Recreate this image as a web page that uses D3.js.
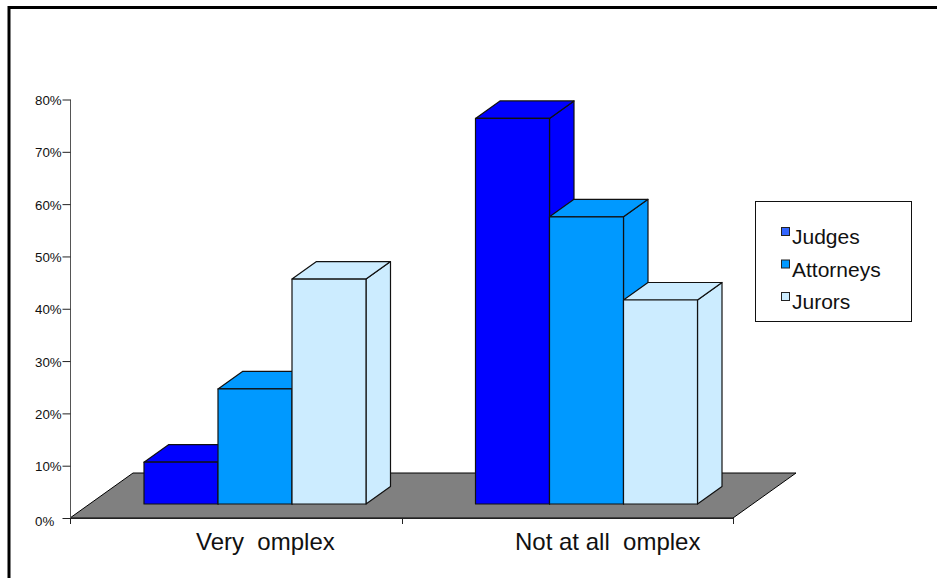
<!DOCTYPE html>
<html><head><meta charset="utf-8">
<script src="https://cdn.jsdelivr.net/npm/d3@7/dist/d3.min.js"></script>
<style>html,body{margin:0;padding:0;background:#fff}svg{display:block}text{font-family:"Liberation Sans",Arial,sans-serif;fill:#111}</style>
</head><body><svg id="c" width="937" height="578"></svg>
<script>
const categories=["Very  omplex","Not at all  omplex"];
const seriesNames=["Judges","Attorneys","Jurors"];
const judges=[8,73.7];
const attorneys=[22,54.9];
const jurors=[43,39];
const seriesValues=[judges,attorneys,jurors];
const seriesColors=["#0000ff","#0099ff","#ccecff"];
const legendColors=["#3366ff","#0099ff","#ccecff"];
const yTicks=[0,10,20,30,40,50,60,70,80];

const svg=d3.select("#c");
const x=d3.scaleBand().domain(categories).range([70,733]);
const y=d3.scaleLinear().domain([0,80]).range([518,99.5]);
const barW=74, inset=74, baseLift=14, dx=24.5, dy=-17.5, fdx=63, fdy=-45;
const labelStart=[126,113.5];

// frame: only top and left edges are visible
svg.append("path").attr("d","M9,578V7.5H937").attr("fill","none").attr("stroke","#000").attr("stroke-width",3);

// floor
svg.append("path").attr("d",`M${x.range()[0]},${y(0)}L${x.range()[1]},${y(0)}l${fdx},${fdy}L${x.range()[0]+fdx},${y(0)+fdy}Z`)
  .attr("fill","#808080").attr("stroke","#000").attr("stroke-width",1);

// axes
const ya=d3.axisLeft(y).tickValues(yTicks).tickSize(8).tickFormat(d=>d+"%");
const gy=svg.append("g").attr("transform","translate(70.5,0)").call(ya);
gy.selectAll("line").attr("stroke","#222");
gy.select(".domain").attr("stroke","#555").attr("d",`M0,${y(80)}V${y(0)}`);
gy.selectAll("text").attr("font-size",13.3).attr("text-anchor","start").attr("x",-35.5)
  .attr("dy",d=>d===0?"0.6em":"0.38em").attr("fill","#111");
svg.append("g").selectAll("line").data([70,402,733]).join("line")
  .attr("x1",d=>d+.5).attr("x2",d=>d+.5).attr("y1",y(0)).attr("y2",y(0)+6).attr("stroke","#222");
svg.append("line").attr("x1",70).attr("x2",733).attr("y1",y(0)+.5).attr("y2",y(0)+.5).attr("stroke","#222");

// bars
const basey=y(0)-baseLift;
categories.forEach((c,ci)=>{
  seriesValues.forEach((vals,si)=>{
    const v=vals[ci], x0=x(c)+inset+si*barW, top=y(v)-baseLift, g=svg.append("g")
      .attr("fill",seriesColors[si]).attr("stroke","#111").attr("stroke-width",1.2).attr("stroke-linejoin","round");
    g.append("path").attr("d",`M${x0+barW},${top}l${dx},${dy}V${basey+dy}l${-dx},${-dy}Z`);
    g.append("path").attr("d",`M${x0},${top}l${dx},${dy}h${barW}l${-dx},${-dy}Z`);
    g.append("rect").attr("x",x0).attr("y",top).attr("width",barW).attr("height",basey-top);
  });
});

// category labels
svg.append("g").selectAll("text").data(categories).join("text")
  .attr("x",(d,i)=>x(d)+labelStart[i]).attr("y",550)
  .attr("font-size",24).attr("xml:space","preserve").style("white-space","pre").text(d=>d);

// legend
svg.append("rect").attr("x",755.5).attr("y",201.5).attr("width",156).attr("height",120)
  .attr("fill","#fff").attr("stroke","#111").attr("stroke-width",1);
const ly=d3.scalePoint().domain(seriesNames).range([227,292]);
const lg=svg.append("g").selectAll("g").data(seriesNames).join("g");
lg.append("rect").attr("x",781.5).attr("y",d=>ly(d)+.5).attr("width",8).attr("height",8)
  .attr("fill",(d,i)=>legendColors[i]).attr("stroke","#222");
lg.append("text").attr("x",792).attr("y",d=>ly(d)+17).attr("font-size",21).text(d=>d);
</script></body></html>
